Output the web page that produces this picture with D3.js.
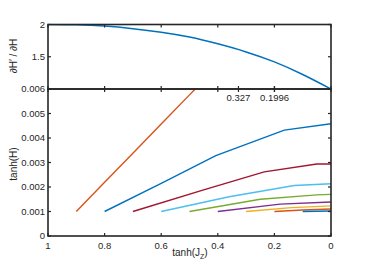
<!DOCTYPE html>
<html>
<head>
<meta charset="utf-8">
<script src="https://cdn.jsdelivr.net/npm/d3@7"></script>
<style>
  body { margin: 0; background: #fff; }
  svg { display: block; }
  text { font-family: "Liberation Sans", Arial, sans-serif; fill: #262626; }
</style>
</head>
<body>
<svg id="chart" width="366" height="264"></svg>
<script>
// top panel: dH'/dH against tanh(Jz)
const topJz = [1, 0.9, 0.8, 0.7, 0.6, 0.5, 0.4, 0.3, 0.2, 0.1, 0];
const topDeriv = [2, 1.995, 1.975, 1.935, 1.88, 1.805, 1.70, 1.575, 1.42, 1.225, 1.0];

// bottom panel: tanh(H) curves, one per starting tanh(Jz)
const jzA = [0.9, 0.8, 0.7, 0.6, 0.5, 0.4];
const hA = [0.001, 0.00219, 0.00338, 0.00457, 0.00576, 0.00695];
const jzB = [0.8, 0.6, 0.407, 0.165, 0];
const hB = [0.001, 0.00215, 0.00328, 0.00432, 0.00458];
const jzC = [0.7, 0.45, 0.236, 0.05, 0];
const hC = [0.001, 0.00188, 0.00262, 0.00294, 0.00294];
const jzD = [0.6, 0.36, 0.13, 0];
const hD = [0.001, 0.0016, 0.00206, 0.00213];
const jzE = [0.5, 0.25, 0.05, 0];
const hE = [0.001, 0.0015, 0.00168, 0.0017];
const jzF = [0.4, 0.18, 0];
const hF = [0.001, 0.0013, 0.00139];
const jzG = [0.3, 0.14, 0];
const hG = [0.001, 0.00116, 0.00123];
const jzH = [0.2, 0.1, 0];
const hH = [0.001, 0.00106, 0.0011];
const jzI = [0.1, 0];
const hI = [0.001, 0.00102];

const seriesColors = ['#D95319', '#0072BD', '#A2142F', '#4DBEEE', '#77AC30', '#7E2F8E', '#EDB120', '#D95319', '#0072BD'];

const xTicks = [1, 0.8, 0.6, 0.4, 0.2, 0];
const hTicks = [0, 0.001, 0.002, 0.003, 0.004, 0.005, 0.006];
const derivTicks = [1.5, 2];
const markTicks = [0.327, 0.1996];

const series = [
  [jzA, hA], [jzB, hB], [jzC, hC], [jzD, hD], [jzE, hE],
  [jzF, hF], [jzG, hG], [jzH, hH], [jzI, hI]
].map(([xs, ys], i) => ({ pts: xs.map((x, j) => [x, ys[j]]), color: seriesColors[i] }));

const svg = d3.select('#chart');
const left = 48, right = 331;
const topTop = 24.5, split = 89, bottom = 236;
const axisColor = '#262626';

const x = d3.scaleLinear().domain([1, 0]).range([left, right]);
const yTop = d3.scaleLinear().domain([1, 2]).range([split, topTop]);
const yBot = d3.scaleLinear().domain([0, 0.006]).range([bottom, split]);

svg.append('clipPath').attr('id', 'clipBot')
  .append('rect').attr('x', left).attr('y', split).attr('width', right - left).attr('height', bottom - split);
svg.append('clipPath').attr('id', 'clipTop')
  .append('rect').attr('x', left).attr('y', topTop).attr('width', right - left).attr('height', split - topTop);

// lines
const lineTop = d3.line().x(d => x(d[0])).y(d => yTop(d[1])).curve(d3.curveNatural);
svg.append('path')
  .attr('clip-path', 'url(#clipTop)')
  .attr('fill', 'none')
  .attr('stroke', '#0072BD')
  .attr('stroke-width', 1.5)
  .attr('d', lineTop(topJz.map((v, i) => [v, topDeriv[i]])));

const lineBot = d3.line().x(d => x(d[0])).y(d => yBot(d[1]));
svg.append('g').attr('clip-path', 'url(#clipBot)')
  .selectAll('path')
  .data(series)
  .enter().append('path')
  .attr('fill', 'none')
  .attr('stroke', d => d.color)
  .attr('stroke-width', 1.4)
  .attr('d', d => lineBot(d.pts));

// axes frames
const tickLen = 3;
function frame(y0, y1) {
  svg.append('rect')
    .attr('x', left).attr('y', y0)
    .attr('width', right - left).attr('height', y1 - y0)
    .attr('fill', 'none').attr('stroke', axisColor).attr('stroke-width', 1.6);
}
frame(topTop, split);
frame(split, bottom);

const ticks = svg.append('g').attr('stroke', axisColor).attr('stroke-width', 1.2);

xTicks.forEach(t => {
  ticks.append('line').attr('x1', x(t)).attr('x2', x(t)).attr('y1', bottom).attr('y2', bottom - tickLen);
  ticks.append('line').attr('x1', x(t)).attr('x2', x(t)).attr('y1', split - tickLen).attr('y2', split + tickLen);
  ticks.append('line').attr('x1', x(t)).attr('x2', x(t)).attr('y1', topTop).attr('y2', topTop + tickLen);
});
markTicks.forEach(t => {
  ticks.append('line').attr('x1', x(t)).attr('x2', x(t)).attr('y1', split - tickLen).attr('y2', split + tickLen);
});
hTicks.forEach(t => {
  ticks.append('line').attr('x1', left).attr('x2', left + tickLen).attr('y1', yBot(t)).attr('y2', yBot(t));
  ticks.append('line').attr('x1', right).attr('x2', right - tickLen).attr('y1', yBot(t)).attr('y2', yBot(t));
});
derivTicks.forEach(t => {
  ticks.append('line').attr('x1', left).attr('x2', left + tickLen).attr('y1', yTop(t)).attr('y2', yTop(t));
  ticks.append('line').attr('x1', right).attr('x2', right - tickLen).attr('y1', yTop(t)).attr('y2', yTop(t));
});

// tick labels
const fs = 9.5;
svg.append('g').selectAll('text').data(xTicks).enter().append('text')
  .attr('x', d => x(d)).attr('y', bottom + 13)
  .attr('text-anchor', 'middle').attr('font-size', fs)
  .text(d => d3.format('')(d));

svg.append('g').selectAll('text').data(hTicks).enter().append('text')
  .attr('x', left - 3).attr('y', d => yBot(d) + 3.3)
  .attr('text-anchor', 'end').attr('font-size', fs)
  .text(d => d === 0 ? '0' : d3.format('.3f')(d));

svg.append('g').selectAll('text').data(derivTicks).enter().append('text')
  .attr('x', left - 3).attr('y', d => yTop(d) + 3.3)
  .attr('text-anchor', 'end').attr('font-size', fs)
  .text(d => String(d));

svg.append('g').selectAll('text').data(markTicks).enter().append('text')
  .attr('x', d => x(d)).attr('y', split + 12)
  .attr('text-anchor', 'middle').attr('font-size', fs)
  .text(d => String(d));

// axis titles
const xl = svg.append('text')
  .attr('x', 190).attr('y', 256)
  .attr('text-anchor', 'middle').attr('font-size', 10);
xl.append('tspan').text('tanh(J');
xl.append('tspan').attr('font-size', 7).attr('dy', 2.5).text('Z');
xl.append('tspan').attr('dy', -2.5).text(')');

svg.append('text')
  .attr('transform', 'translate(17,164) rotate(-90)')
  .attr('text-anchor', 'middle').attr('font-size', 10)
  .text('tanh(H)');

svg.append('text')
  .attr('transform', 'translate(17,56) rotate(-90)')
  .attr('text-anchor', 'middle').attr('font-size', 10)
  .text('\u2202H\u2032 / \u2202H');
</script>
</body>
</html>
